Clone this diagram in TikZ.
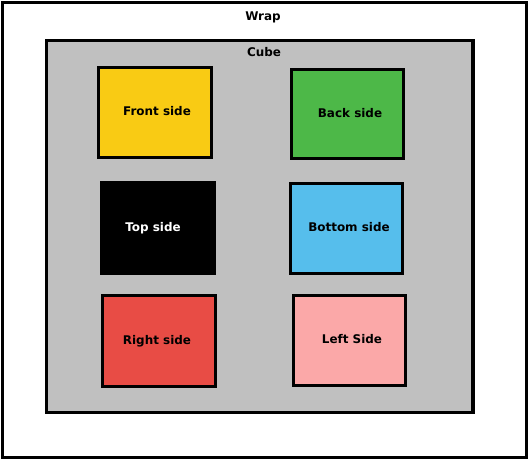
\documentclass[tikz,border=0pt]{standalone}
\usepackage{fontspec}
\setmainfont{DejaVu Sans}
\definecolor{cgray}{HTML}{C0C0C0}
\definecolor{cyel}{HTML}{F9CB14}
\definecolor{cgreen}{HTML}{4DB848}
\definecolor{cblue}{HTML}{56BEEC}
\definecolor{cred}{HTML}{E84C45}
\definecolor{cpink}{HTML}{FBA8A8}
\begin{document}
\begin{tikzpicture}[x=1bp,y=-1bp,
  frame/.style={draw=black,line width=3.4bp},
  side/.style={frame,line width=3bp,inner sep=0pt},
  lbl/.style={font=\fontsize{12}{14}\selectfont\bfseries,inner sep=0pt}]
\useasboundingbox (0,0) rectangle (529,460);
\draw[frame,fill=white] (2.5,2.5) rectangle (526.5,457.5);
\node[lbl] (wrap) at (263,17) {Wrap};
\draw[frame,fill=cgray] (46.5,40.5) rectangle (473,412.5);
\node[lbl] (cube) at (264,52) {Cube};
\draw[side,fill=cyel] (98.5,67.5) rectangle (211,158);
\node[lbl] (front) at (157,111) {Front side};
\draw[side,fill=cgreen] (291.5,69.5) rectangle (403,159);
\node[lbl] (back) at (350,113) {Back side};
\draw[side,fill=black] (101.5,182.5) rectangle (214,273);
\node[lbl,text=white] (top) at (153,228) {Top side};
\draw[side,fill=cblue] (290.5,183.5) rectangle (402,273);
\node[lbl] (bottom) at (349,227) {Bottom side};
\draw[side,fill=cred] (102.5,295.5) rectangle (215,386);
\node[lbl] (right) at (157,341) {Right side};
\draw[side,fill=cpink] (293.5,295.5) rectangle (405,385);
\node[lbl] (left) at (352,339) {Left Side};
\end{tikzpicture}
\end{document}
